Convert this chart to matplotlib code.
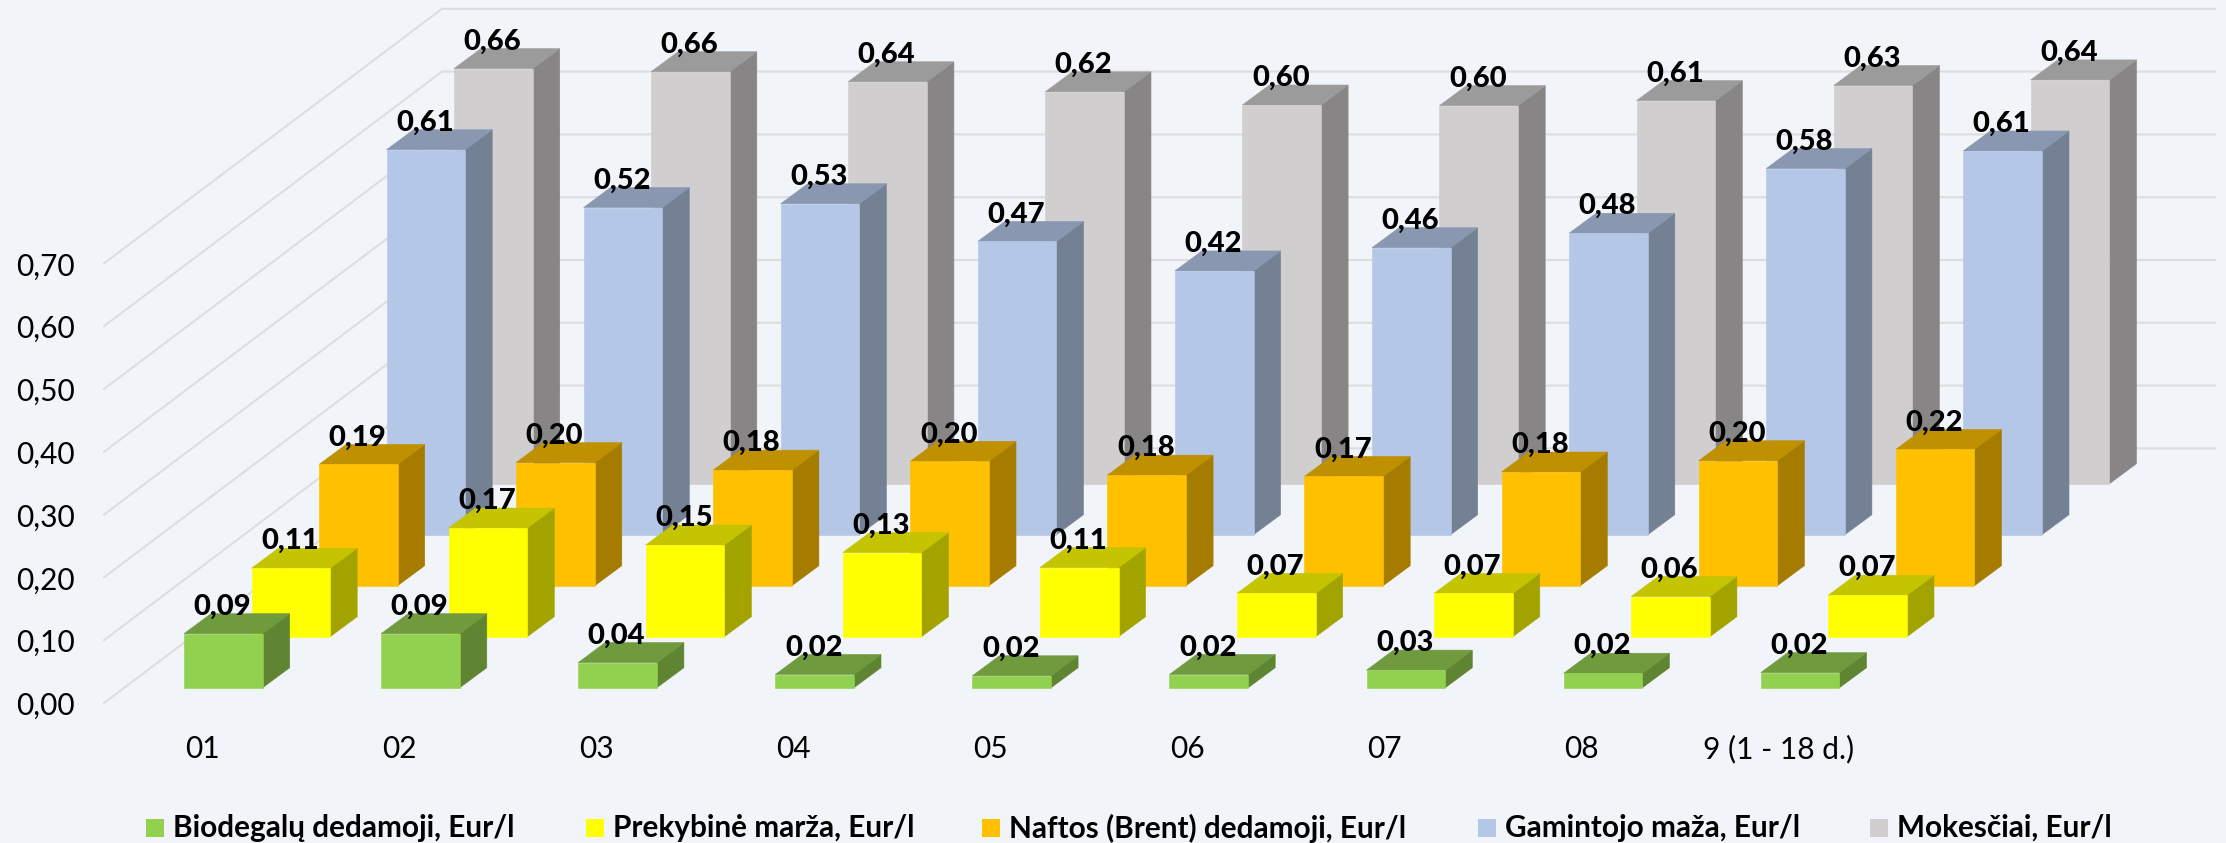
import matplotlib
matplotlib.use('Agg')
import matplotlib.pyplot as plt
from matplotlib.patches import Polygon, Rectangle

plt.rcParams['font.family'] = ['Lato', 'DejaVu Sans']

months = ['01', '02', '03', '04', '05', '06', '07', '08', '9 (1 - 18 d.)']
biodegalai = [0.086, 0.086, 0.040, 0.021, 0.019, 0.021, 0.028, 0.023, 0.024]
marza = [0.109, 0.173, 0.146, 0.134, 0.110, 0.069, 0.069, 0.064, 0.066]
nafta = [0.193, 0.196, 0.184, 0.198, 0.176, 0.174, 0.181, 0.199, 0.217]
gamintojo = [0.613, 0.521, 0.527, 0.467, 0.420, 0.457, 0.480, 0.583, 0.611]
mokesciai = [0.661, 0.656, 0.640, 0.624, 0.603, 0.602, 0.610, 0.634, 0.643]
y_ticks = [0.0, 0.1, 0.2, 0.3, 0.4, 0.5, 0.6, 0.7]

names = ['Biodegalų dedamoji, Eur/l', 'Prekybinė marža, Eur/l', 'Naftos (Brent) dedamoji, Eur/l',
         'Gamintojo maža, Eur/l', 'Mokesčiai, Eur/l']
series = [biodegalai, marza, nafta, gamintojo, mokesciai]
# front, top, side
colors = [('#92D050', '#6F9A3D', '#5F8532'),
          ('#FFFF00', '#C4C400', '#A3A300'),
          ('#FFC000', '#BF9000', '#A67C00'),
          ('#B4C7E7', '#8998B0', '#748093'),
          ('#D0CECE', '#9C9B9B', '#878585')]
legend_x = [146, 586, 982, 1478, 1870]

W, H = 2226, 843
BG = '#F1F4F8'
GRID = '#DCDDDF'
PX_X = 197.1    # pixels per month
PX_Y = 628.0    # pixels per 1 Eur/l
X0 = 184.0
Y0 = 703.0

def fmt(v):
    return f'{v:.2f}'.replace('.', ',')

fig = plt.figure(figsize=(W / 100, H / 100), dpi=100, facecolor=BG)
ax = fig.add_axes([0, 0, 1, 1])
ax.set_xlim(-X0 / PX_X, (W - X0) / PX_X)
ax.set_ylim((Y0 - H) / PX_Y, Y0 / PX_Y)
ax.axis('off')

# sizes in data units
bar_w = 78.7 / PX_X
depth_x = 27 / PX_X
depth_y = 20 / PX_Y
row_x = 67.5 / PX_X
row_y = 51 / PX_Y
base0 = 15.3 / PX_Y
wall_dx = 338 / PX_X
wall_dy = 254.6 / PX_Y
grid_left = (104 - X0) / PX_X
grid_right = (2215 - X0) / PX_X

for t in y_ticks:
    ax.plot([grid_left, grid_left + wall_dx, grid_right], [t, t + wall_dy, t + wall_dy],
            color=GRID, lw=1.5, zorder=1, solid_joinstyle='miter')
    ax.text((75 - X0) / PX_X, t - 3 / PX_Y, fmt(t), ha='right', va='center', fontsize=21.5, color='black')

for i, m in enumerate(months):
    ax.text(i + (202 - X0) / PX_X, -46 / PX_Y, m, ha='center', va='center', fontsize=21.5, color='black')

# back row first, so the nearer bars cover it
z = 2
for r in range(4, -1, -1):
    front, top, side = colors[r]
    vals = series[r]
    for i, v in enumerate(vals):
        x = i + r * row_x
        b = base0 + r * row_y
        ax.add_patch(Polygon([(x + bar_w, b), (x + bar_w + depth_x, b + depth_y),
                              (x + bar_w + depth_x, b + v + depth_y), (x + bar_w, b + v)],
                             facecolor=side, edgecolor=side, lw=0.4, zorder=z))
        ax.add_patch(Polygon([(x, b + v), (x + depth_x, b + v + depth_y),
                              (x + bar_w + depth_x, b + v + depth_y), (x + bar_w, b + v)],
                             facecolor=top, edgecolor=top, lw=0.4, zorder=z))
    ax.bar([i + r * row_x for i in range(len(vals))], vals, width=bar_w, bottom=base0 + r * row_y,
           align='edge', color=front, edgecolor=front, lw=0.4, zorder=z + 0.5)
    z += 1

for r in range(5):
    for i, v in enumerate(series[r]):
        ax.text(i + r * row_x + bar_w / 2 - 1 / PX_X, base0 + r * row_y + v + 27 / PX_Y, fmt(v),
                ha='center', va='center', fontsize=21, fontweight='black', color='black', zorder=20)

for name, lx, c in zip(names, legend_x, colors):
    fig.add_artist(Rectangle((lx / W, 1 - 837 / H), 18 / W, 18 / H, transform=fig.transFigure,
                             facecolor=c[0], edgecolor='none'))
    fig.text((lx + 27) / W, 1 - 828 / H, name, ha='left', va='center', fontsize=21.4,
             fontweight='bold', color='black')

fig.savefig('out.png', dpi=100, facecolor=BG)
